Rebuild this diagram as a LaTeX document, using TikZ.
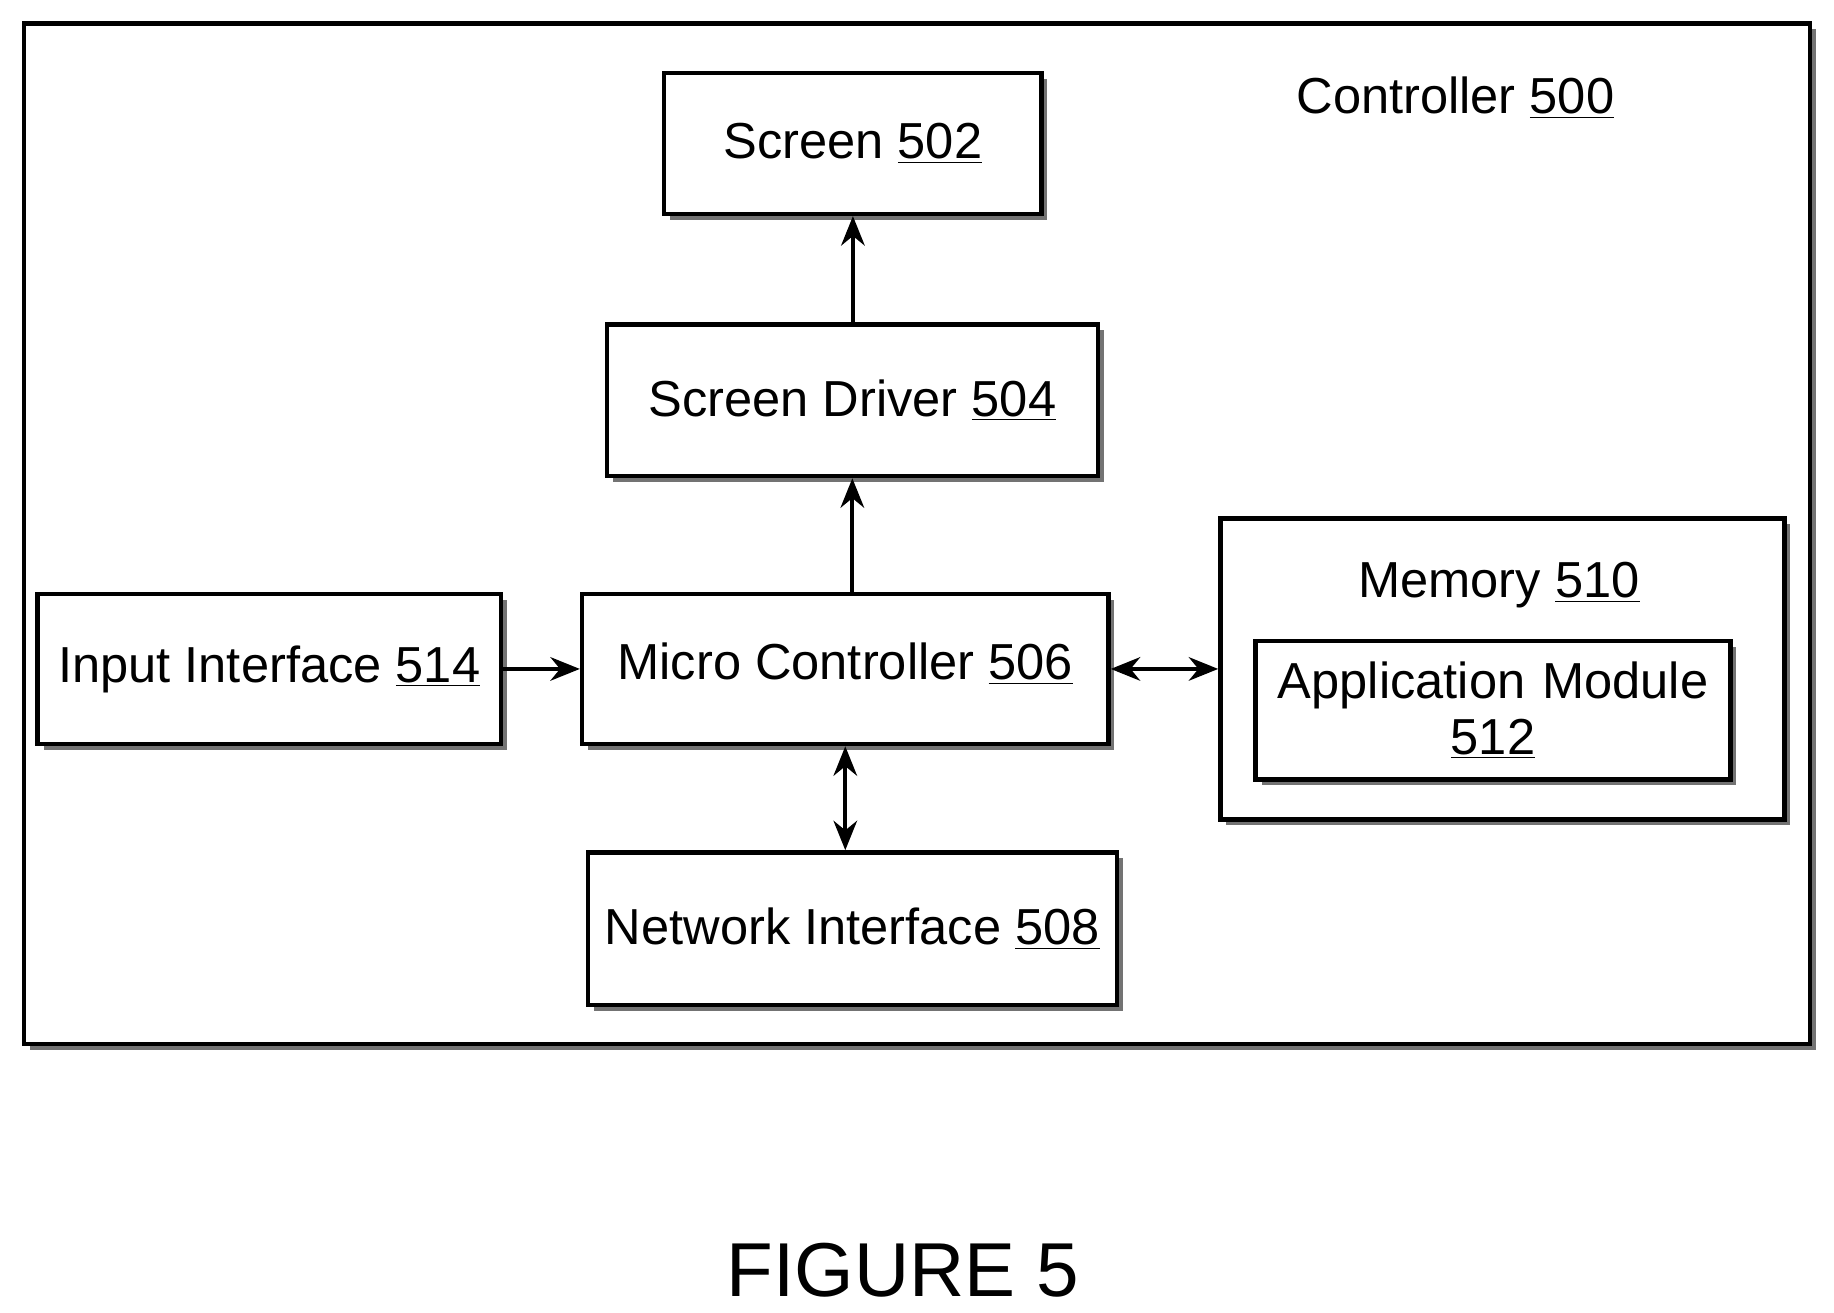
\documentclass[tikz,border=0pt]{standalone}
\usepackage{fontspec}
\setmainfont{Liberation Sans}
\usetikzlibrary{shadows,arrows.meta}
\begin{document}
\begin{tikzpicture}[x=0.02cm,y=-0.02cm,
  box/.style={draw,line width=2.1pt,fill=white,inner sep=0pt,
    drop shadow={shadow xshift=0.1cm,shadow yshift=-0.1cm,fill=black!55,opacity=1},
    font=\fontsize{24.5}{29}\selectfont,align=center},
  arr/.style={line width=2pt,-{Stealth[length=0.5cm,width=0.4cm]}},
  darr/.style={line width=2pt,{Stealth[length=0.5cm,width=0.4cm]}-{Stealth[length=0.5cm,width=0.4cm]}}]
\useasboundingbox (0,0) rectangle (1560,1116);
\node[box,minimum width=30.4cm,minimum height=17.36cm] (outer) at (780,454) {};
\node[font=\fontsize{24.5}{29}\selectfont] (ctl) at (1238,83) {Controller \underline{500}};
\node[box,minimum width=6.42cm,minimum height=2.4cm] (scr) at (725.5,122) {Screen \underline{502}};
\node[box,minimum width=8.36cm,minimum height=2.58cm] (sd) at (725,340.5) {Screen Driver \underline{504}};
\node[box,minimum width=8.96cm,minimum height=2.56cm,text depth=0.25cm] (mc) at (719,569) {Micro Controller \underline{506}};
\node[box,minimum width=7.88cm,minimum height=2.56cm] (ii) at (229,569) {Input Interface \underline{514}};
\node[box,minimum width=9.0cm,minimum height=2.6cm] (ni) at (725,790) {Network Interface \underline{508}};
\node[box,minimum width=9.6cm,minimum height=5.12cm] (mem) at (1278,569) {};
\node[font=\fontsize{24.5}{29}\selectfont] (meml) at (1275,498) {Memory \underline{510}};
\node[box,minimum width=8.08cm,minimum height=2.36cm,text width=8cm] (am) at (1270,604) {Application Module\\[-2pt]\underline{512}};
\draw[arr] (scr.south |- sd.north) -- (scr.south);
\draw[arr] (sd.south |- mc.north) -- (sd.south);
\draw[arr] (ii.east) -- (mc.west);
\draw[darr] (mc.east) -- (mem.west);
\draw[darr] (mc.south) -- (mc.south |- ni.north);
\node[font=\fontsize{37}{44}\selectfont] (fig) at (768,1080) {FIGURE 5};
\end{tikzpicture}
\end{document}
